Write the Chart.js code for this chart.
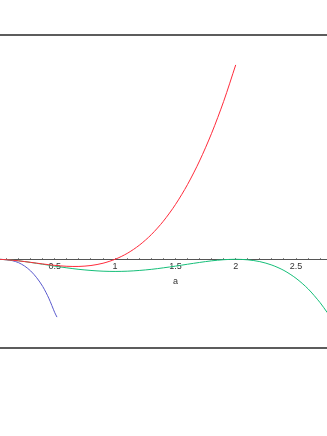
<!DOCTYPE html>
<html>
<head>
<meta charset="utf-8">
<script src="https://cdn.jsdelivr.net/npm/chart.js@4"></script>
<style>
  html,body{margin:0;padding:0;background:#fff;}
  body{width:327px;height:436px;position:relative;overflow:hidden;}
  #frame{position:absolute;left:0;top:34px;width:327px;height:311px;border-top:2px solid #5c5c5c;border-bottom:2px solid #5c5c5c;}
  #frame canvas{display:block;}
</style>
</head>
<body>
<div id="frame"><canvas id="plot" width="327" height="311"></canvas></div>
<script>
/* curves: a -> value */
const redA   = [0.046,0.1,0.2,0.3,0.4,0.5,0.6,0.7,0.8,0.9,1.0,1.1,1.2,1.3,1.4,1.5,1.6,1.7,1.8,1.9,2.0];
const redVal = [-0.002,-0.009,-0.032,-0.063,-0.096,-0.125,-0.144,-0.147,-0.128,-0.081,0,0.121,0.288,0.507,0.784,1.125,1.536,2.023,2.592,3.249,4.0];

const greenA   = [0.046,0.1,0.2,0.3,0.4,0.5,0.6,0.7,0.8,0.9,1.0,1.1,1.2,1.3,1.4,1.5,1.6,1.7,1.8,1.9,2.0,2.1,2.2,2.3,2.4,2.5,2.6,2.7,2.76];
const greenVal = [-0.002,-0.009,-0.032,-0.065,-0.102,-0.141,-0.176,-0.207,-0.230,-0.245,-0.25,-0.245,-0.230,-0.207,-0.176,-0.141,-0.102,-0.065,-0.032,-0.009,0,-0.011,-0.048,-0.119,-0.230,-0.391,-0.608,-0.893,-1.10];

const blueA   = [0.046,0.1,0.15,0.2,0.25,0.3,0.35,0.4,0.45,0.5,0.518];
const blueVal = [-0.001,-0.009,-0.03,-0.07,-0.14,-0.24,-0.38,-0.56,-0.80,-1.10,-1.19];

const xMin = 0.0456, xMax = 2.757, yMin = -1.805, yMax = 4.595;
const majorTicks = [0.5,1,1.5,2,2.5];
const axisTitle = 'a';

const pts = (xs, ys) => xs.map((x,i)=>({x:x, y:ys[i]}));
const curve = (xs, ys, col) => ({data:pts(xs,ys), borderColor:col, borderWidth:1, pointRadius:0, tension:0.3, fill:false});

const axisTitlePlugin = {
  id:'axisTitle',
  afterDraw(chart){
    const {ctx, scales:{x, y}} = chart;
    ctx.save();
    ctx.font = '9px "Liberation Sans", Arial, sans-serif';
    ctx.fillStyle = '#333';
    ctx.textAlign = 'center';
    ctx.textBaseline = 'middle';
    ctx.fillText(axisTitle, x.getPixelForValue(1.5), y.getPixelForValue(0) + 22.5);
    ctx.restore();
  }
};

new Chart(document.getElementById('plot'), {
  type:'line',
  data:{datasets:[
    curve(redA, redVal, '#ff2a3a'),
    curve(greenA, greenVal, 'rgb(20,190,120)'),
    curve(blueA, blueVal, 'rgb(90,90,205)')
  ]},
  options:{
    responsive:false, animation:false, maintainAspectRatio:false,
    layout:{padding:0},
    plugins:{legend:{display:false}, tooltip:{enabled:false}, title:{display:false}},
    scales:{
      x:{
        type:'linear', min:xMin, max:xMax, position:{y:0},
        border:{display:true, color:'#555', width:1},
        grid:{drawOnChartArea:false, drawTicks:true, tickLength:-2, color:'#888'},
        ticks:{
          stepSize:0.1, includeBounds:false, autoSkip:false, maxRotation:0, padding:4,
          color:'#333', font:{family:'"Liberation Sans", Arial, sans-serif', size:9},
          callback:(v)=> majorTicks.some(m=>Math.abs(m-v)<1e-6) ? String(Math.round(v*10)/10) : ''
        }
      },
      y:{type:'linear', min:yMin, max:yMax, display:false}
    }
  },
  plugins:[axisTitlePlugin]
});
</script>
</body>
</html>
